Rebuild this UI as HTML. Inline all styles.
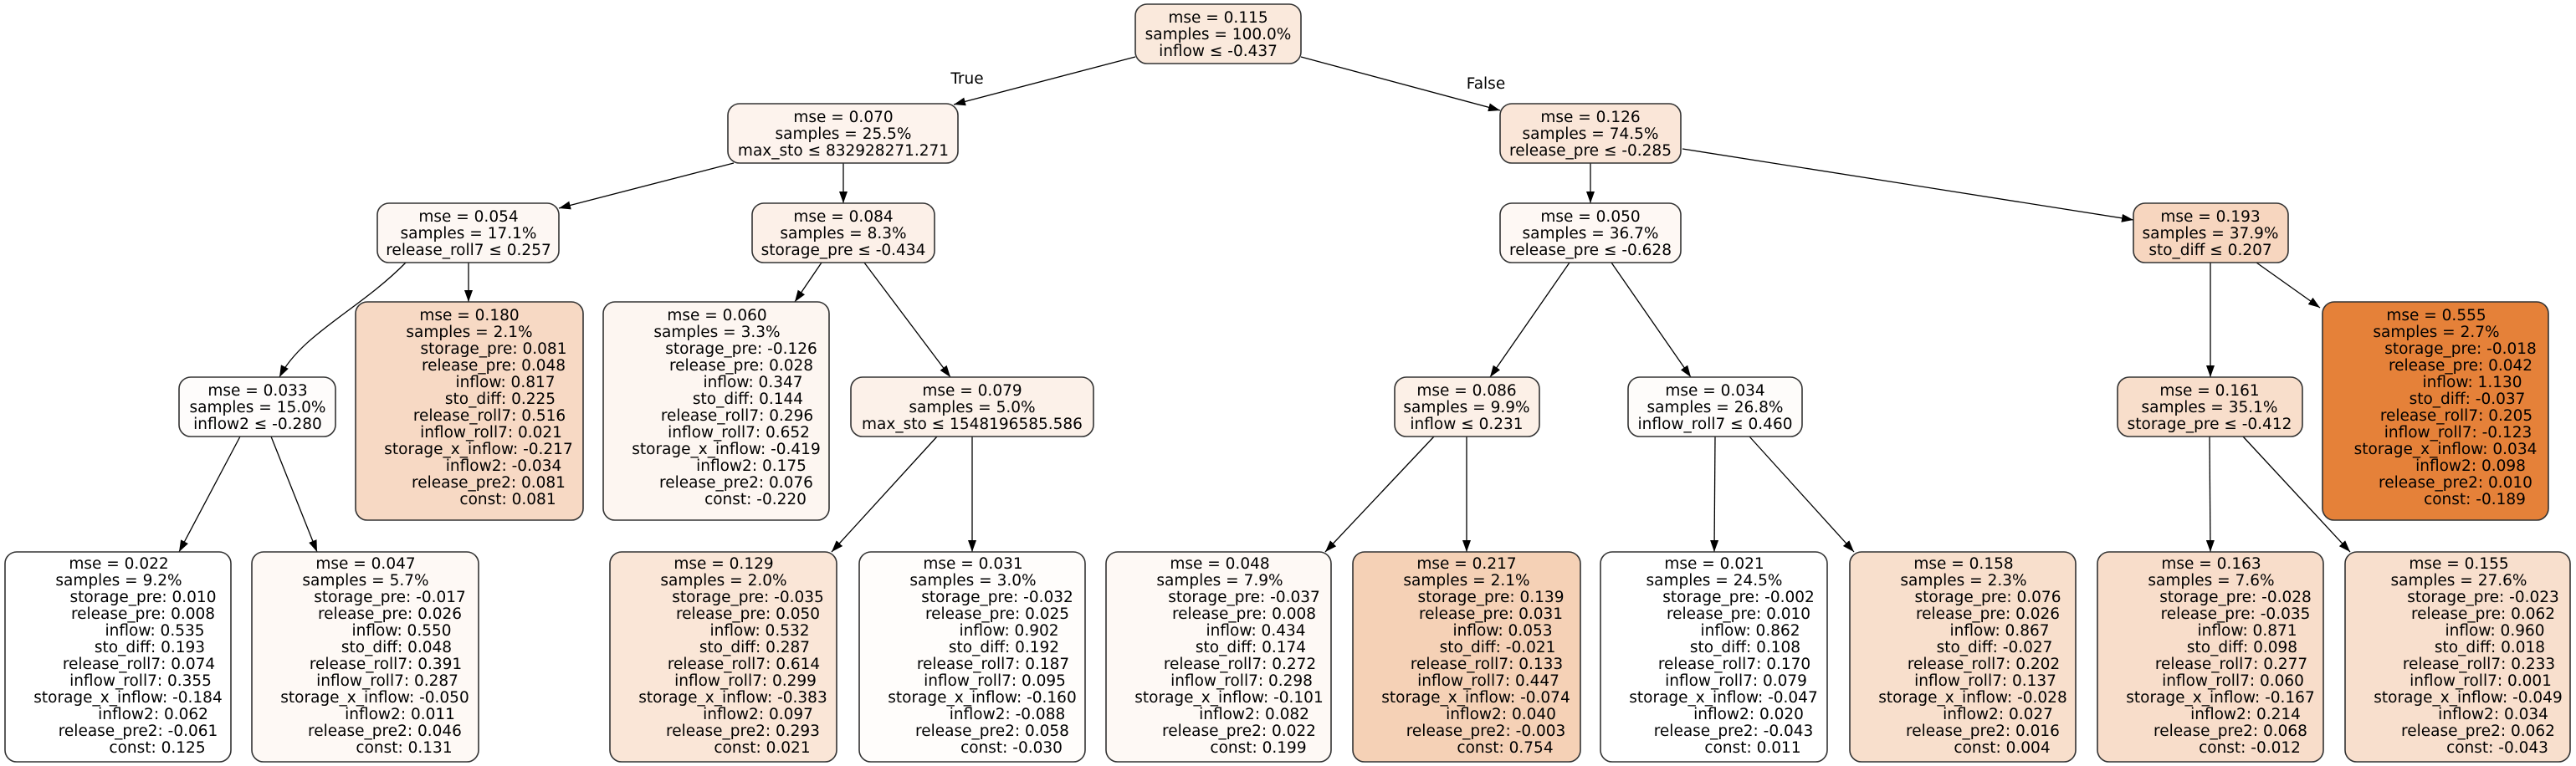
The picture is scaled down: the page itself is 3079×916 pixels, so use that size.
<!DOCTYPE html>
<html><head><meta charset="utf-8"><style>
html,body{margin:0;padding:0;background:#fff;}
svg{display:block;}
text{font-family:"DejaVu Sans","Liberation Sans",sans-serif;font-size:18.5px;fill:#000;}
.b{stroke:#333;stroke-width:1.6;}
.e{stroke:#000;stroke-width:1.3;fill:none;}
</style></head><body>
<svg width="3079" height="916" viewBox="0 0 3079 916" xmlns="http://www.w3.org/2000/svg">
<defs><marker id="a" markerWidth="14" markerHeight="10" refX="14" refY="5" orient="auto" markerUnits="userSpaceOnUse"><path d="M0,0 L14,5 L0,10 z" fill="#000"/></marker></defs>

<!-- edges -->
<g class="e" marker-end="url(#a)">
<line x1="1357" y1="68" x2="1140" y2="125" marker-end="url(#a)"/>
<line x1="1555" y1="68" x2="1793" y2="132" marker-end="url(#a)"/>
<line x1="877" y1="195" x2="668" y2="249" marker-end="url(#a)"/>
<line x1="1008" y1="195" x2="1008" y2="243" marker-end="url(#a)"/>
<path d="M485,314 C430,370 360,400 334,451" marker-end="url(#a)"/>
<line x1="560" y1="314" x2="560" y2="361" marker-end="url(#a)"/>
<line x1="982" y1="314" x2="950" y2="361" marker-end="url(#a)"/>
<line x1="1033" y1="314" x2="1136" y2="451" marker-end="url(#a)"/>
<line x1="287" y1="522" x2="214" y2="660" marker-end="url(#a)"/>
<line x1="324" y1="522" x2="379" y2="660" marker-end="url(#a)"/>
<line x1="1120" y1="522" x2="994" y2="660" marker-end="url(#a)"/>
<line x1="1162" y1="522" x2="1162" y2="660" marker-end="url(#a)"/>
<line x1="1901" y1="195" x2="1901" y2="243" marker-end="url(#a)"/>
<line x1="2011" y1="178" x2="2550" y2="263" marker-end="url(#a)"/>
<line x1="1876" y1="314" x2="1781" y2="451" marker-end="url(#a)"/>
<line x1="1926" y1="314" x2="2021" y2="451" marker-end="url(#a)"/>
<line x1="2642" y1="314" x2="2642" y2="451" marker-end="url(#a)"/>
<line x1="2697" y1="314" x2="2773" y2="368" marker-end="url(#a)"/>
<line x1="1714" y1="522" x2="1584" y2="660" marker-end="url(#a)"/>
<line x1="1753" y1="522" x2="1753" y2="660" marker-end="url(#a)"/>
<line x1="2050" y1="522" x2="2049" y2="660" marker-end="url(#a)"/>
<line x1="2091" y1="522" x2="2216" y2="660" marker-end="url(#a)"/>
<line x1="2641" y1="522" x2="2642" y2="660" marker-end="url(#a)"/>
<line x1="2681" y1="522" x2="2809" y2="660" marker-end="url(#a)"/>
</g>
<text x="1156" y="100" text-anchor="middle">True</text>
<text x="1776" y="106" text-anchor="middle">False</text>

<!-- short nodes -->
<g text-anchor="middle">
<rect class="b" x="1357" y="5" width="198" height="71" rx="14" fill="#fae9dc"/>
<text x="1456" y="27">mse = 0.115</text><text x="1456" y="47">samples = 100.0%</text><text x="1456" y="67">inflow ≤ -0.437</text>

<rect class="b" x="870" y="124" width="275" height="71" rx="14" fill="#fdf3ed"/>
<text x="1008" y="146">mse = 0.070</text><text x="1008" y="166">samples = 25.5%</text><text x="1008" y="186">max_sto ≤ 832928271.271</text>

<rect class="b" x="1793" y="124" width="216" height="71" rx="14" fill="#fae6d8"/>
<text x="1901" y="146">mse = 0.126</text><text x="1901" y="166">samples = 74.5%</text><text x="1901" y="186">release_pre ≤ -0.285</text>

<rect class="b" x="451" y="243" width="217" height="71" rx="14" fill="#fdf7f3"/>
<text x="560" y="265">mse = 0.054</text><text x="560" y="285">samples = 17.1%</text><text x="560" y="305">release_roll7 ≤ 0.257</text>

<rect class="b" x="899" y="243" width="218" height="71" rx="14" fill="#fcf0e8"/>
<text x="1008" y="265">mse = 0.084</text><text x="1008" y="285">samples = 8.3%</text><text x="1008" y="305">storage_pre ≤ -0.434</text>

<rect class="b" x="1793" y="243" width="216" height="71" rx="14" fill="#fef8f4"/>
<text x="1901" y="265">mse = 0.050</text><text x="1901" y="285">samples = 36.7%</text><text x="1901" y="305">release_pre ≤ -0.628</text>

<rect class="b" x="2550" y="243" width="185" height="71" rx="14" fill="#f7d6bf"/>
<text x="2642" y="265">mse = 0.193</text><text x="2642" y="285">samples = 37.9%</text><text x="2642" y="305">sto_diff ≤ 0.207</text>

<rect class="b" x="214" y="451" width="187" height="71" rx="14" fill="#fefcfb"/>
<text x="308" y="473">mse = 0.033</text><text x="308" y="493">samples = 15.0%</text><text x="308" y="513">inflow2 ≤ -0.280</text>

<rect class="b" x="1017" y="451" width="290" height="71" rx="14" fill="#fcf1e9"/>
<text x="1162" y="473">mse = 0.079</text><text x="1162" y="493">samples = 5.0%</text><text x="1162" y="513">max_sto ≤ 1548196585.586</text>

<rect class="b" x="1667" y="451" width="173" height="71" rx="14" fill="#fcf0e7"/>
<text x="1753" y="473">mse = 0.086</text><text x="1753" y="493">samples = 9.9%</text><text x="1753" y="513">inflow ≤ 0.231</text>

<rect class="b" x="1946" y="451" width="208" height="71" rx="14" fill="#fefcfa"/>
<text x="2050" y="473">mse = 0.034</text><text x="2050" y="493">samples = 26.8%</text><text x="2050" y="513">inflow_roll7 ≤ 0.460</text>

<rect class="b" x="2531" y="451" width="221" height="71" rx="14" fill="#f8decb"/>
<text x="2641" y="473">mse = 0.161</text><text x="2641" y="493">samples = 35.1%</text><text x="2641" y="513">storage_pre ≤ -0.412</text>
</g>

<!-- tall nodes: rect + lines; offsets relative to left edge -->
<g text-anchor="middle">
<!-- 0.180 -->
<rect class="b" x="425" y="361" width="272" height="261" rx="14" fill="#f7d9c4"/>
<g transform="translate(425,361)">
<text x="136" y="22">mse = 0.180</text><text x="136" y="42">samples = 2.1%</text><text x="165" y="62">storage_pre: 0.081</text><text x="165" y="82">release_pre: 0.048</text><text x="179" y="102">inflow: 0.817</text><text x="173" y="122">sto_diff: 0.225</text><text x="160" y="142">release_roll7: 0.516</text><text x="162" y="162">inflow_roll7: 0.021</text><text x="147" y="182">storage_x_inflow: -0.217</text><text x="177" y="202">inflow2: -0.034</text><text x="159" y="222">release_pre2: 0.081</text><text x="182" y="242">const: 0.081</text>
</g>
<!-- 0.060 -->
<rect class="b" x="721" y="361" width="270" height="261" rx="14" fill="#fdf6f1"/>
<g transform="translate(721,361)">
<text x="136" y="22">mse = 0.060</text><text x="136" y="42">samples = 3.3%</text><text x="165" y="62">storage_pre: -0.126</text><text x="165" y="82">release_pre: 0.028</text><text x="179" y="102">inflow: 0.347</text><text x="173" y="122">sto_diff: 0.144</text><text x="160" y="142">release_roll7: 0.296</text><text x="162" y="162">inflow_roll7: 0.652</text><text x="147" y="182">storage_x_inflow: -0.419</text><text x="177" y="202">inflow2: 0.175</text><text x="159" y="222">release_pre2: 0.076</text><text x="182" y="242">const: -0.220</text>
</g>
<!-- 0.555 -->
<rect class="b" x="2776" y="361" width="270" height="261" rx="14" fill="#e58139"/>
<g transform="translate(2776,361)">
<text x="136" y="22">mse = 0.555</text><text x="136" y="42">samples = 2.7%</text><text x="165" y="62">storage_pre: -0.018</text><text x="165" y="82">release_pre: 0.042</text><text x="179" y="102">inflow: 1.130</text><text x="173" y="122">sto_diff: -0.037</text><text x="160" y="142">release_roll7: 0.205</text><text x="162" y="162">inflow_roll7: -0.123</text><text x="147" y="182">storage_x_inflow: 0.034</text><text x="177" y="202">inflow2: 0.098</text><text x="159" y="222">release_pre2: 0.010</text><text x="182" y="242">const: -0.189</text>
</g>

<!-- leaves -->
<rect class="b" x="6" y="660" width="270" height="251" rx="14" fill="#ffffff"/>
<g transform="translate(6,660)">
<text x="136" y="20">mse = 0.022</text><text x="136" y="40">samples = 9.2%</text><text x="165" y="60">storage_pre: 0.010</text><text x="165" y="80">release_pre: 0.008</text><text x="179" y="100">inflow: 0.535</text><text x="173" y="120">sto_diff: 0.193</text><text x="160" y="140">release_roll7: 0.074</text><text x="162" y="160">inflow_roll7: 0.355</text><text x="147" y="180">storage_x_inflow: -0.184</text><text x="177" y="200">inflow2: 0.062</text><text x="159" y="220">release_pre2: -0.061</text><text x="182" y="240">const: 0.125</text>
</g>
<rect class="b" x="301" y="660" width="271" height="251" rx="14" fill="#fef9f5"/>
<g transform="translate(301,660)">
<text x="136" y="20">mse = 0.047</text><text x="136" y="40">samples = 5.7%</text><text x="165" y="60">storage_pre: -0.017</text><text x="165" y="80">release_pre: 0.026</text><text x="179" y="100">inflow: 0.550</text><text x="173" y="120">sto_diff: 0.048</text><text x="160" y="140">release_roll7: 0.391</text><text x="162" y="160">inflow_roll7: 0.287</text><text x="147" y="180">storage_x_inflow: -0.050</text><text x="177" y="200">inflow2: 0.011</text><text x="159" y="220">release_pre2: 0.046</text><text x="182" y="240">const: 0.131</text>
</g>
<rect class="b" x="729" y="660" width="271" height="251" rx="14" fill="#fae6d7"/>
<g transform="translate(729,660)">
<text x="136" y="20">mse = 0.129</text><text x="136" y="40">samples = 2.0%</text><text x="165" y="60">storage_pre: -0.035</text><text x="165" y="80">release_pre: 0.050</text><text x="179" y="100">inflow: 0.532</text><text x="173" y="120">sto_diff: 0.287</text><text x="160" y="140">release_roll7: 0.614</text><text x="162" y="160">inflow_roll7: 0.299</text><text x="147" y="180">storage_x_inflow: -0.383</text><text x="177" y="200">inflow2: 0.097</text><text x="159" y="220">release_pre2: 0.293</text><text x="182" y="240">const: 0.021</text>
</g>
<rect class="b" x="1027" y="660" width="270" height="251" rx="14" fill="#fffdfb"/>
<g transform="translate(1027,660)">
<text x="136" y="20">mse = 0.031</text><text x="136" y="40">samples = 3.0%</text><text x="165" y="60">storage_pre: -0.032</text><text x="165" y="80">release_pre: 0.025</text><text x="179" y="100">inflow: 0.902</text><text x="173" y="120">sto_diff: 0.192</text><text x="160" y="140">release_roll7: 0.187</text><text x="162" y="160">inflow_roll7: 0.095</text><text x="147" y="180">storage_x_inflow: -0.160</text><text x="177" y="200">inflow2: -0.088</text><text x="159" y="220">release_pre2: 0.058</text><text x="182" y="240">const: -0.030</text>
</g>
<rect class="b" x="1322" y="660" width="269" height="251" rx="14" fill="#fef9f5"/>
<g transform="translate(1322,660)">
<text x="136" y="20">mse = 0.048</text><text x="136" y="40">samples = 7.9%</text><text x="165" y="60">storage_pre: -0.037</text><text x="165" y="80">release_pre: 0.008</text><text x="179" y="100">inflow: 0.434</text><text x="173" y="120">sto_diff: 0.174</text><text x="160" y="140">release_roll7: 0.272</text><text x="162" y="160">inflow_roll7: 0.298</text><text x="147" y="180">storage_x_inflow: -0.101</text><text x="177" y="200">inflow2: 0.082</text><text x="159" y="220">release_pre2: 0.022</text><text x="182" y="240">const: 0.199</text>
</g>
<rect class="b" x="1617" y="660" width="272" height="251" rx="14" fill="#f5d1b6"/>
<g transform="translate(1617,660)">
<text x="136" y="20">mse = 0.217</text><text x="136" y="40">samples = 2.1%</text><text x="165" y="60">storage_pre: 0.139</text><text x="165" y="80">release_pre: 0.031</text><text x="179" y="100">inflow: 0.053</text><text x="173" y="120">sto_diff: -0.021</text><text x="160" y="140">release_roll7: 0.133</text><text x="162" y="160">inflow_roll7: 0.447</text><text x="147" y="180">storage_x_inflow: -0.074</text><text x="177" y="200">inflow2: 0.040</text><text x="159" y="220">release_pre2: -0.003</text><text x="182" y="240">const: 0.754</text>
</g>
<rect class="b" x="1913" y="660" width="271" height="251" rx="14" fill="#ffffff"/>
<g transform="translate(1913,660)">
<text x="136" y="20">mse = 0.021</text><text x="136" y="40">samples = 24.5%</text><text x="165" y="60">storage_pre: -0.002</text><text x="165" y="80">release_pre: 0.010</text><text x="179" y="100">inflow: 0.862</text><text x="173" y="120">sto_diff: 0.108</text><text x="160" y="140">release_roll7: 0.170</text><text x="162" y="160">inflow_roll7: 0.079</text><text x="147" y="180">storage_x_inflow: -0.047</text><text x="177" y="200">inflow2: 0.020</text><text x="159" y="220">release_pre2: -0.043</text><text x="182" y="240">const: 0.011</text>
</g>
<rect class="b" x="2211" y="660" width="270" height="251" rx="14" fill="#f8dfcc"/>
<g transform="translate(2211,660)">
<text x="136" y="20">mse = 0.158</text><text x="136" y="40">samples = 2.3%</text><text x="165" y="60">storage_pre: 0.076</text><text x="165" y="80">release_pre: 0.026</text><text x="179" y="100">inflow: 0.867</text><text x="173" y="120">sto_diff: -0.027</text><text x="160" y="140">release_roll7: 0.202</text><text x="162" y="160">inflow_roll7: 0.137</text><text x="147" y="180">storage_x_inflow: -0.028</text><text x="177" y="200">inflow2: 0.027</text><text x="159" y="220">release_pre2: 0.016</text><text x="182" y="240">const: 0.004</text>
</g>
<rect class="b" x="2507" y="660" width="270" height="251" rx="14" fill="#f8ddca"/>
<g transform="translate(2507,660)">
<text x="136" y="20">mse = 0.163</text><text x="136" y="40">samples = 7.6%</text><text x="165" y="60">storage_pre: -0.028</text><text x="165" y="80">release_pre: -0.035</text><text x="179" y="100">inflow: 0.871</text><text x="173" y="120">sto_diff: 0.098</text><text x="160" y="140">release_roll7: 0.277</text><text x="162" y="160">inflow_roll7: 0.060</text><text x="147" y="180">storage_x_inflow: -0.167</text><text x="177" y="200">inflow2: 0.214</text><text x="159" y="220">release_pre2: 0.068</text><text x="182" y="240">const: -0.012</text>
</g>
<rect class="b" x="2803" y="660" width="269" height="251" rx="14" fill="#f8dfcd"/>
<g transform="translate(2803,660)">
<text x="136" y="20">mse = 0.155</text><text x="136" y="40">samples = 27.6%</text><text x="165" y="60">storage_pre: -0.023</text><text x="165" y="80">release_pre: 0.062</text><text x="179" y="100">inflow: 0.960</text><text x="173" y="120">sto_diff: 0.018</text><text x="160" y="140">release_roll7: 0.233</text><text x="162" y="160">inflow_roll7: 0.001</text><text x="147" y="180">storage_x_inflow: -0.049</text><text x="177" y="200">inflow2: 0.034</text><text x="159" y="220">release_pre2: 0.062</text><text x="182" y="240">const: -0.043</text>
</g>
</g>
</svg>
</body></html>
